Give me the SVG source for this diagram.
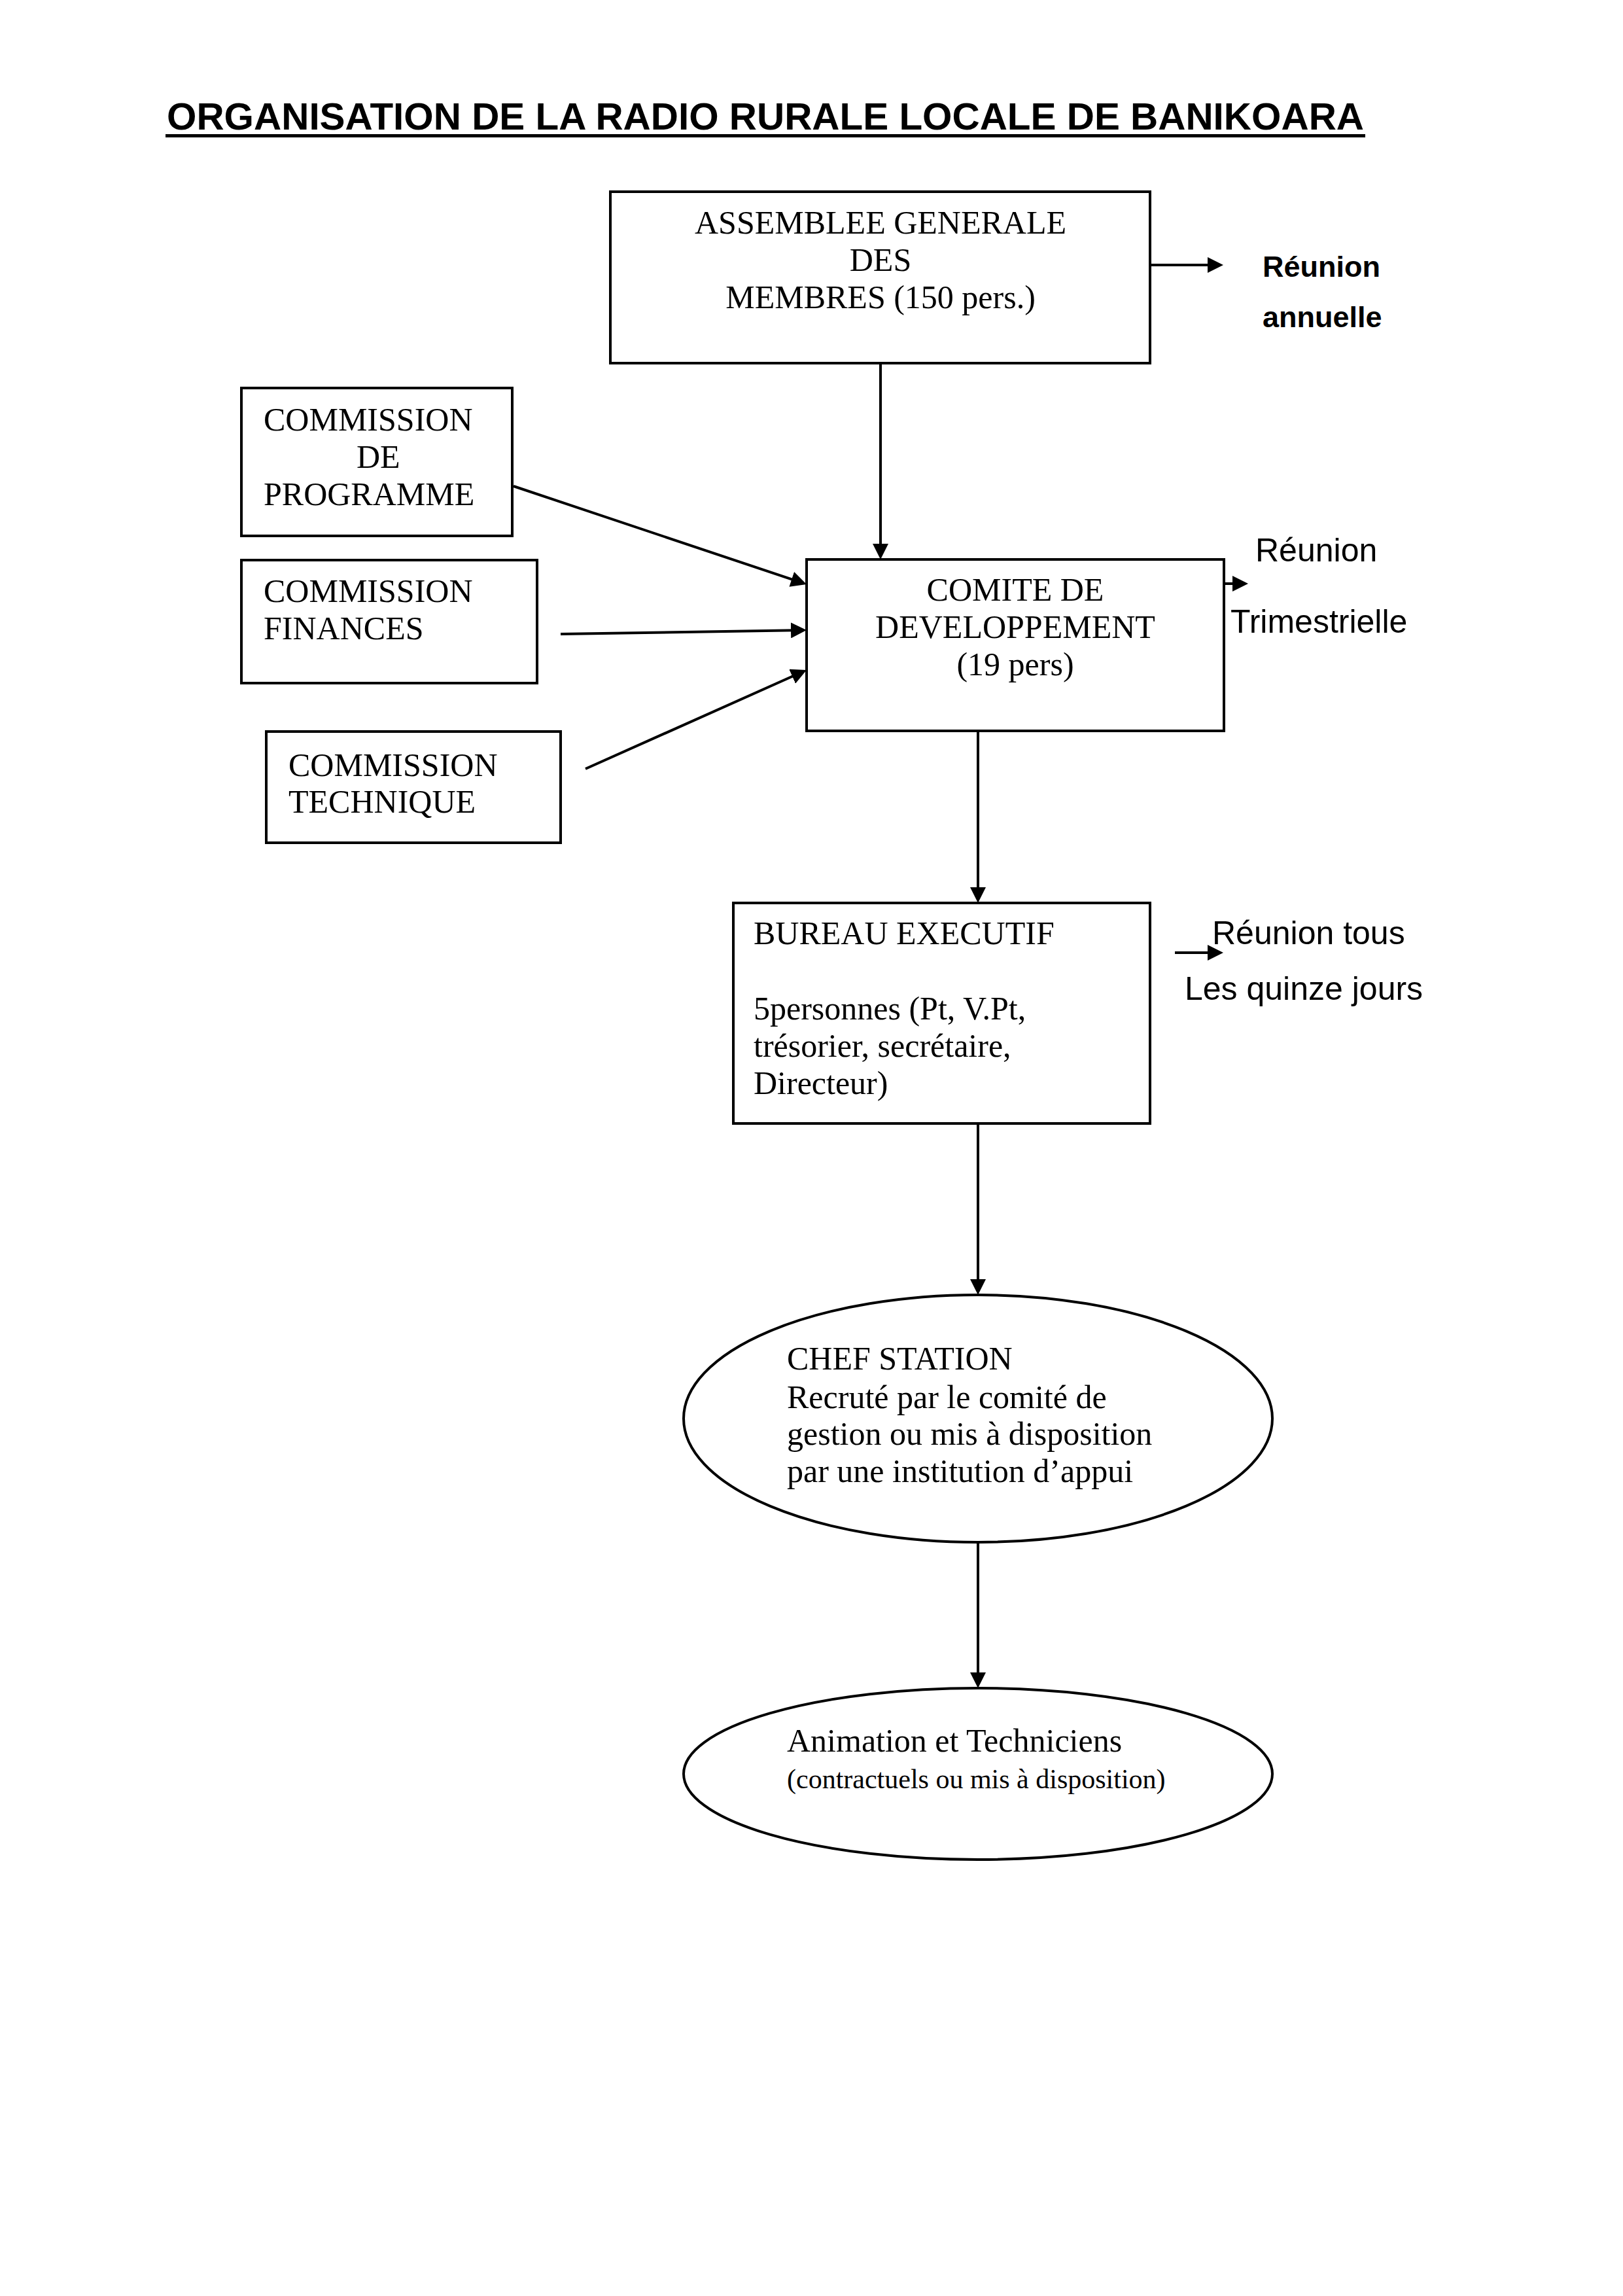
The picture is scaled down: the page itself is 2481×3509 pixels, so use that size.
<svg xmlns="http://www.w3.org/2000/svg" width="2481" height="3509" viewBox="0 0 2481 3509">
<style>
.box{fill:#fff;stroke:#000;stroke-width:4}
.t{font-family:"Liberation Serif","Times New Roman",serif;font-size:50px;fill:#000}
.t42{font-family:"Liberation Serif","Times New Roman",serif;font-size:42px;fill:#000}
.s{font-family:"Liberation Sans",Arial,sans-serif;font-size:50px;fill:#000}
.sb{font-family:"Liberation Sans",Arial,sans-serif;font-size:45px;font-weight:bold;fill:#000}
.c{stroke:#000;stroke-width:4;fill:none;marker-end:url(#ah)}
</style>
<defs>
<marker id="ah" markerUnits="userSpaceOnUse" markerWidth="24" markerHeight="24" viewBox="0 0 24 24" refX="8" refY="12" orient="auto">
<path d="M0,0 L24,12 L0,24 z" fill="#000"/>
</marker>
</defs>
<rect width="2481" height="3509" fill="#fff"/>
<g id="title">
<text x="255" y="198" font-family="'Liberation Sans',Arial,sans-serif" font-size="58" font-weight="bold" textLength="1830" lengthAdjust="spacingAndGlyphs">ORGANISATION DE LA RADIO RURALE LOCALE DE BANIKOARA</text>
<rect x="253" y="205" width="1834" height="5" fill="#000"/>
</g>
<g id="connectors">
<line class="c" x1="1346" y1="556" x2="1346" y2="839"/>
<line class="c" x1="785" y1="743" x2="1217.8" y2="887.9"/>
<line class="c" x1="857" y1="969" x2="1217" y2="963.3"/>
<line class="c" x1="895" y1="1175" x2="1218.4" y2="1030.5"/>
<line class="c" x1="1495" y1="1118" x2="1495" y2="1364"/>
<line class="c" x1="1495" y1="1718" x2="1495" y2="1963"/>
<line class="c" x1="1495" y1="2357" x2="1495" y2="2564"/>
<line class="c" x1="1758" y1="405" x2="1854" y2="405"/>
<line class="c" x1="1871" y1="892" x2="1892" y2="892"/>
<line class="c" x1="1796" y1="1456" x2="1854" y2="1456"/>
</g>
<g id="assemblee">
<rect class="box" x="933" y="293" width="825" height="262"/>
<text class="t" x="1346" y="357" text-anchor="middle">ASSEMBLEE GENERALE</text>
<text class="t" x="1346" y="414" text-anchor="middle">DES</text>
<text class="t" x="1346" y="471" text-anchor="middle">MEMBRES (150 pers.)</text>
</g>
<g id="reunion-annuelle">
<text class="sb" x="1930" y="423">Réunion</text>
<text class="sb" x="1930" y="500">annuelle</text>
</g>
<g id="commission-programme">
<rect class="box" x="369" y="593" width="414" height="226"/>
<text class="t" x="403" y="658">COMMISSION</text>
<text class="t" x="545" y="715">DE</text>
<text class="t" x="403" y="772">PROGRAMME</text>
</g>
<g id="commission-finances">
<rect class="box" x="369" y="856" width="452" height="188"/>
<text class="t" x="403" y="920">COMMISSION</text>
<text class="t" x="403" y="977">FINANCES</text>
</g>
<g id="commission-technique">
<rect class="box" x="407" y="1118" width="450" height="170"/>
<text class="t" x="441" y="1186">COMMISSION</text>
<text class="t" x="441" y="1242">TECHNIQUE</text>
</g>
<g id="comite">
<rect class="box" x="1233" y="855" width="638" height="262"/>
<text class="t" x="1552" y="918" text-anchor="middle">COMITE DE</text>
<text class="t" x="1552" y="975" text-anchor="middle">DEVELOPPEMENT</text>
<text class="t" x="1552" y="1032" text-anchor="middle">(19 pers)</text>
</g>
<g id="reunion-trimestrielle">
<text class="s" x="1919" y="858">Réunion</text>
<text class="s" x="1881" y="967">Trimestrielle</text>
</g>
<g id="bureau">
<rect class="box" x="1121" y="1380" width="637" height="337"/>
<text class="t" x="1152" y="1443">BUREAU EXECUTIF</text>
<text class="t" x="1152" y="1558">5personnes (Pt, V.Pt,</text>
<text class="t" x="1152" y="1615">trésorier, secrétaire,</text>
<text class="t" x="1152" y="1672">Directeur)</text>
</g>
<g id="reunion-quinze">
<text class="s" x="1853" y="1443">Réunion tous</text>
<text class="s" x="1811" y="1528">Les quinze jours</text>
</g>
<g id="chef-station">
<ellipse class="box" cx="1495" cy="2168" rx="450" ry="189"/>
<text class="t" x="1203" y="2093">CHEF STATION</text>
<text class="t" x="1203" y="2152">Recruté par le comité de</text>
<text class="t" x="1203" y="2208">gestion ou mis à disposition</text>
<text class="t" x="1203" y="2265">par une institution d’appui</text>
</g>
<g id="animation">
<ellipse class="box" cx="1495" cy="2711" rx="450" ry="131"/>
<text class="t" x="1203" y="2677">Animation et Techniciens</text>
<text class="t42" x="1203" y="2733">(contractuels ou mis à disposition)</text>
</g>
</svg>
